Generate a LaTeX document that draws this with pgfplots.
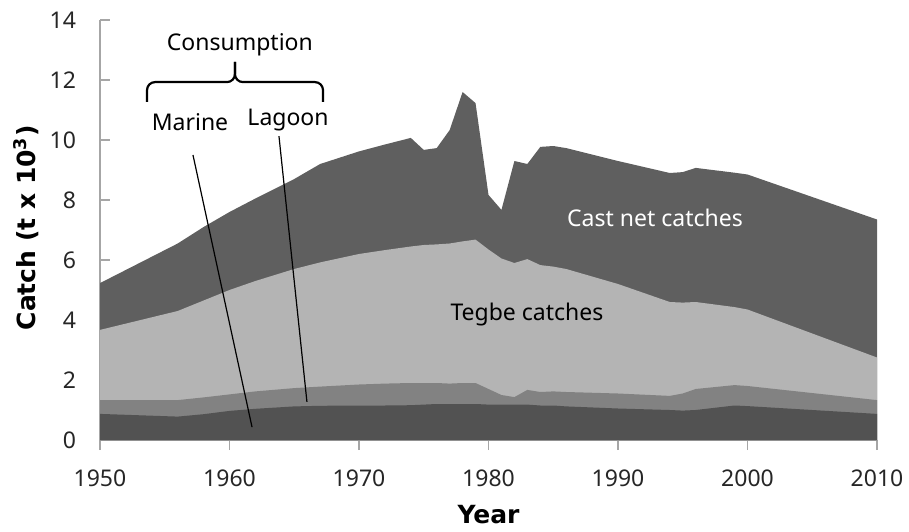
\documentclass[border=0pt]{standalone}
\usepackage{fontspec}
\setmainfont{Noto Sans}
\newfontfamily\labelfont{DejaVu Sans}
\usepackage{pgfplots}
\usepackage{pgfplotstable}
\pgfplotsset{compat=1.18}
\definecolor{castnet}{RGB}{95,95,95}
\definecolor{tegbe}{RGB}{180,180,180}
\definecolor{lagoon}{RGB}{130,130,130}
\definecolor{marine}{RGB}{82,82,82}
\definecolor{axisgray}{RGB}{166,166,166}
% cumulative upper boundaries of the stacked layers (t x 10^3)
\pgfplotstableread{
year marine lagoon tegbe total
1950 0.87 1.33 3.67 5.23
1956 0.78 1.33 4.30 6.55
1958 0.86 1.42 4.65 7.10
1960 0.97 1.52 5.00 7.60
1962 1.04 1.62 5.30 8.05
1965 1.12 1.73 5.70 8.70
1967 1.14 1.78 5.92 9.20
1970 1.15 1.85 6.20 9.62
1972 1.15 1.88 6.33 9.85
1974 1.16 1.90 6.45 10.07
1975 1.18 1.90 6.50 9.67
1976 1.20 1.90 6.52 9.73
1977 1.20 1.88 6.55 10.33
1978 1.20 1.90 6.62 11.60
1979 1.20 1.90 6.68 11.23
1980 1.18 1.70 6.35 8.17
1981 1.18 1.50 6.05 7.67
1982 1.18 1.43 5.90 9.30
1983 1.18 1.67 6.03 9.20
1984 1.15 1.60 5.83 9.77
1985 1.15 1.62 5.78 9.80
1986 1.12 1.60 5.70 9.73
1990 1.05 1.55 5.20 9.30
1994 1.00 1.47 4.60 8.90
1995 0.98 1.55 4.58 8.93
1996 1.00 1.70 4.60 9.07
1999 1.15 1.83 4.43 8.91
2000 1.13 1.80 4.35 8.85
2010 0.87 1.33 2.75 7.35
}\catchdata
\begin{document}
\fontsize{11.5}{13.8}\selectfont
\begin{tikzpicture}
\useasboundingbox (-50pt,-45.5pt) rectangle (404.5pt,220pt);
\begin{axis}[
  at={(0,0)}, anchor=south west,
  scale only axis, width=388.5pt, height=210pt,
  xmin=1950, xmax=2010, ymin=0, ymax=14,
  axis x line=bottom, axis y line=left,
  axis line style={-, draw=axisgray, line width=0.8pt},
  xtick={1950,1960,...,2010}, ytick={0,2,...,14},
  xtick align=outside, ytick align=inside,
  major tick length=5pt,
  tick style={draw=axisgray, line width=0.8pt},
  /pgf/number format/assume math mode=true,
  /pgf/number format/set thousands separator={},
  ticklabel style={font=\fontsize{11.5}{13.8}\selectfont, text=black!85},
  yticklabel style={xshift=-8pt},
  xticklabel style={yshift=-6pt},
  xlabel={Year},
  ylabel={Catch (t x 10\textsuperscript{3})},
  xlabel style={font=\labelfont\fontsize{12.5}{15}\bfseries, at={(axis description cs:0.5,0)}, anchor=center, yshift=-37.5pt},
  ylabel style={font=\labelfont\fontsize{12.5}{15}\bfseries, at={(axis description cs:0,0.505)}, anchor=center, yshift=37pt},
  clip=false,
]
\addplot[draw=none, fill=castnet] table[x=year, y=total] {\catchdata} \closedcycle;
\addplot[draw=none, fill=tegbe] table[x=year, y=tegbe] {\catchdata} \closedcycle;
\addplot[draw=none, fill=lagoon] table[x=year, y=lagoon] {\catchdata} \closedcycle;
\addplot[draw=none, fill=marine] table[x=year, y=marine] {\catchdata} \closedcycle;

\node[text=white] at (axis cs:1992.86,7.4) {Cast net catches};
\node[text=black] at (axis cs:1982.97,4.17) {Tegbe catches};
\node[text=black] at (axis cs:1960.8,13.17) {Consumption};
\node[text=black] at (axis cs:1956.95,10.6) {Marine};
\node[text=black] at (axis cs:1964.52,10.67) {Lagoon};
\draw[black, line width=0.6pt] (axis cs:1957.18,9.5) -- (axis cs:1961.74,0.43);
\draw[black, line width=0.6pt] (axis cs:1963.82,10.13) -- (axis cs:1965.98,1.27);
\draw[black, line width=1.1pt, rounded corners=4pt]
  (axis cs:1953.63,11.27) -- (axis cs:1953.63,11.93) -- (axis cs:1960.42,11.93) -- (axis cs:1960.42,12.6);
\draw[black, line width=1.1pt, rounded corners=4pt]
  (axis cs:1967.22,11.27) -- (axis cs:1967.22,11.93) -- (axis cs:1960.42,11.93) -- (axis cs:1960.42,12.6);
\end{axis}
\end{tikzpicture}
\end{document}
